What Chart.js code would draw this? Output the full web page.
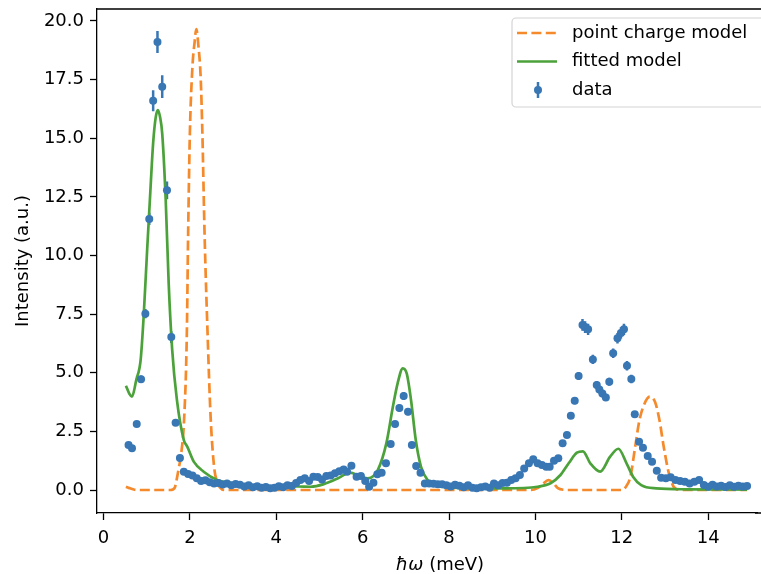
<!DOCTYPE html>
<html>
<head>
<meta charset="utf-8">
<script src="https://cdn.jsdelivr.net/npm/chart.js@4.4.1/dist/chart.umd.min.js"></script>
<style>
html, body { margin: 0; padding: 0; overflow: hidden; background: #fff; }
</style>
</head>
<body>
<canvas id="crys-graph" width="761" height="574"></canvas>
<script>
// measured spectrum
var dataX = [0.58,0.66,0.77,0.87,0.97,1.06,1.15,1.25,1.36,1.47,
  1.57,1.67,1.77,1.86,1.96,2.06,2.16,2.26,2.36,2.46,
  2.56,2.66,2.76,2.86,2.96,3.06,3.16,3.26,3.36,3.46,
  3.56,3.66,3.76,3.86,3.96,4.06,4.16,4.26,4.36,4.46,
  4.56,4.66,4.76,4.86,4.96,5.06,5.16,5.26,5.36,5.46,
  5.56,5.64,5.74,5.86,5.96,6.06,6.15,6.25,6.34,6.44,
  6.54,6.65,6.75,6.85,6.95,7.05,7.14,7.24,7.34,7.44,
  7.54,7.64,7.74,7.84,7.94,8.04,8.14,8.24,8.34,8.44,
  8.54,8.64,8.74,8.84,8.94,9.04,9.14,9.24,9.34,9.44,
  9.54,9.64,9.74,9.85,9.95,10.05,10.15,10.25,10.33,10.43,
  10.53,10.63,10.73,10.82,10.91,11.0,11.09,11.15,11.22,11.33,
  11.42,11.48,11.55,11.63,11.71,11.8,11.9,11.98,12.05,12.12,
  12.22,12.3,12.4,12.49,12.6,12.7,12.81,12.91,13.02,13.13,
  13.24,13.35,13.46,13.57,13.68,13.79,13.9,14.0,14.1,14.2,
  14.3,14.4,14.5,14.6,14.7,14.8,14.9];
var dataY = [1.92,1.78,2.81,4.72,7.52,11.56,16.6,19.1,17.2,12.78,
  6.52,2.87,1.36,0.78,0.68,0.62,0.5,0.38,0.42,0.33,
  0.28,0.3,0.24,0.28,0.2,0.26,0.22,0.15,0.2,0.12,
  0.16,0.1,0.13,0.07,0.1,0.16,0.12,0.2,0.17,0.3,
  0.43,0.5,0.38,0.57,0.55,0.45,0.6,0.62,0.72,0.8,
  0.88,0.78,1.04,0.57,0.6,0.38,0.14,0.31,0.67,0.74,
  1.14,1.96,2.81,3.5,4.01,3.34,1.92,1.02,0.74,0.28,
  0.28,0.27,0.25,0.25,0.2,0.15,0.22,0.18,0.12,0.2,
  0.1,0.08,0.12,0.15,0.1,0.28,0.2,0.3,0.31,0.43,
  0.5,0.64,0.92,1.14,1.31,1.14,1.07,0.99,0.99,1.25,
  1.35,1.99,2.35,3.17,3.81,4.86,7.04,6.95,6.85,5.57,
  4.48,4.29,4.12,3.95,4.62,5.83,6.47,6.7,6.85,5.3,
  4.73,3.23,2.06,1.8,1.45,1.2,0.82,0.52,0.5,0.54,
  0.43,0.38,0.35,0.28,0.35,0.43,0.21,0.14,0.22,0.15,
  0.18,0.13,0.2,0.14,0.18,0.15,0.17];
var dataErr = [0.1,0.1,0.12,0.16,0.2,0.26,0.45,0.47,0.48,0.38,
  0.25,0.14,0.1,0.07,0.07,0.06,0.06,0.05,0.05,0.05,
  0.05,0.05,0.05,0.05,0.05,0.05,0.05,0.05,0.05,0.05,
  0.05,0.05,0.05,0.05,0.05,0.05,0.05,0.05,0.05,0.05,
  0.06,0.06,0.06,0.06,0.06,0.06,0.06,0.06,0.06,0.06,
  0.07,0.07,0.08,0.06,0.06,0.05,0.05,0.05,0.06,0.07,
  0.08,0.1,0.13,0.15,0.17,0.15,0.1,0.08,0.07,0.05,
  0.05,0.05,0.05,0.05,0.05,0.05,0.05,0.05,0.05,0.05,
  0.05,0.05,0.05,0.05,0.05,0.05,0.05,0.05,0.05,0.05,
  0.06,0.06,0.07,0.08,0.08,0.08,0.08,0.07,0.07,0.08,
  0.09,0.1,0.11,0.13,0.15,0.17,0.25,0.25,0.24,0.2,
  0.17,0.16,0.16,0.15,0.17,0.2,0.22,0.24,0.24,0.2,
  0.18,0.14,0.1,0.1,0.09,0.08,0.07,0.06,0.06,0.06,
  0.05,0.05,0.05,0.05,0.05,0.05,0.05,0.05,0.05,0.05,
  0.05,0.05,0.05,0.05,0.05,0.05,0.05];

// fitted model
var fitX = [0.52,0.6,0.66,0.76,0.86,0.93,1.01,1.09,1.15,1.21,1.26,1.31,1.36,1.44,1.51,1.59,1.7,1.86,1.94,2.09,
  2.32,2.63,3.0,3.5,4.0,4.5,4.8,5.1,5.43,5.7,5.97,6.12,6.35,6.55,6.7,6.81,6.93,7.02,7.12,7.23,
  7.35,7.5,7.8,8.5,9.3,10.05,10.35,10.58,10.77,10.96,11.1,11.27,11.5,11.73,11.92,12.11,12.26,12.45,12.8,13.5,14.9];
var fitY = [4.45,4.1,3.98,4.7,5.54,7.4,10.2,12.9,14.8,15.9,16.2,15.9,15.2,12.4,8.8,6.0,3.84,2.13,1.85,1.21,
  0.78,0.43,0.28,0.18,0.15,0.15,0.14,0.25,0.5,0.74,0.57,0.5,0.85,2.0,3.55,4.55,5.19,4.97,3.84,2.13,
  1.0,0.43,0.14,0.08,0.07,0.14,0.29,0.64,1.14,1.59,1.65,1.14,0.78,1.42,1.76,1.14,0.57,0.21,0.07,0.03,0.02];

// point charge model
var pcX = [0.52,0.6,0.7,0.8,1.55,1.65,1.7,1.75,1.79,1.87,1.93,1.96,2.0,2.06,2.11,2.15,2.2,2.25,2.29,2.34,
  2.41,2.48,2.56,2.62,2.7,2.8,9.9,10.05,10.17,10.3,10.42,10.52,10.65,10.8,12.0,12.1,12.2,12.31,12.41,12.53,
  12.65,12.77,12.87,12.97,13.09,13.2,13.32,13.45,14.9];
var pcY = [0.14,0.08,0.02,0,0,0.1,0.5,1.0,1.42,3.13,6.68,10.95,15.2,18.05,19.1,19.65,18.9,17.6,15.2,10.95,
  6.68,3.13,1.0,0.4,0.1,0,0,0.08,0.25,0.42,0.28,0.08,0.01,0,0,0.15,0.57,1.85,2.99,3.7,
  3.98,3.75,3.0,1.85,0.71,0.14,0.01,0,0];

var xTicks = [0, 2, 4, 6, 8, 10, 12, 14];
var yTicks = [0, 2.5, 5, 7.5, 10, 12.5, 15, 17.5, 20];

var seriesNames = ['point charge model', 'fitted model', 'data'];
var blue = '#3876b4', orange = '#f58a2c', green = '#4ca23a';
var FONT = '"DejaVu Sans", sans-serif';

function pairs(xs, ys) {
	return xs.map(function(x, i) { return {x: x, y: ys[i]}; });
}

var errorBars = {
	id: 'errorBars',
	beforeDatasetDraw: function(chart, args) {
		if (args.index !== 2) return;
		var ctx = chart.ctx, sx = chart.scales.x, sy = chart.scales.y;
		ctx.save();
		ctx.strokeStyle = blue;
		ctx.lineWidth = 2.5;
		ctx.beginPath();
		for (var i = 0; i < dataX.length; i++) {
			var px = sx.getPixelForValue(dataX[i]);
			ctx.moveTo(px, sy.getPixelForValue(dataY[i] + dataErr[i]));
			ctx.lineTo(px, sy.getPixelForValue(dataY[i] - dataErr[i]));
		}
		ctx.stroke();
		ctx.restore();
	}
};

var frame = {
	id: 'frame',
	afterDraw: function(chart) {
		var ctx = chart.ctx, a = chart.chartArea;
		ctx.save();
		// top spine, and bottom spine run to the picture edge; right spine is cropped off
		ctx.strokeStyle = '#000';
		ctx.lineWidth = 1.3;
		ctx.beginPath();
		ctx.moveTo(a.left, a.top);
		ctx.lineTo(chart.width + 5, a.top);
		ctx.moveTo(a.right - 2, a.bottom);
		ctx.lineTo(chart.width + 5, a.bottom);
		ctx.stroke();

		// x axis title, hbar omega in italic
		var p1 = '\u0127\u03c9', p2 = ' (meV)';
		ctx.fillStyle = '#000';
		ctx.textBaseline = 'middle';
		ctx.textAlign = 'left';
		ctx.font = 'italic 18px ' + FONT;
		var w1 = ctx.measureText(p1).width;
		ctx.font = '18px ' + FONT;
		var w2 = ctx.measureText(p2).width;
		var cx = 440 - (w1 + w2) / 2;
		ctx.font = 'italic 18px ' + FONT;
		ctx.fillText(p1, cx, 565);
		ctx.font = '18px ' + FONT;
		ctx.fillText(p2, cx + w1, 565);

		// legend
		var lx = 512, ly = 18, lw = 262, lh = 89;
		ctx.beginPath();
		ctx.roundRect(lx, ly, lw, lh, 4);
		ctx.fillStyle = 'rgba(255,255,255,0.8)';
		ctx.fill();
		ctx.strokeStyle = '#d4d4d4';
		ctx.lineWidth = 1.2;
		ctx.stroke();

		var rows = [33, 61.5, 90];
		ctx.lineWidth = 2.7;
		ctx.strokeStyle = orange;
		ctx.setLineDash([10, 4.4]);
		ctx.beginPath(); ctx.moveTo(517, rows[0]); ctx.lineTo(557, rows[0]); ctx.stroke();
		ctx.setLineDash([]);
		ctx.strokeStyle = green;
		ctx.beginPath(); ctx.moveTo(517, rows[1]); ctx.lineTo(557, rows[1]); ctx.stroke();
		ctx.strokeStyle = blue;
		ctx.lineWidth = 2.5;
		ctx.beginPath(); ctx.moveTo(538, rows[2] - 8); ctx.lineTo(538, rows[2] + 8); ctx.stroke();
		ctx.fillStyle = blue;
		ctx.beginPath(); ctx.arc(538, rows[2], 4, 0, Math.PI * 2); ctx.fill();

		ctx.fillStyle = '#000';
		ctx.font = '18px ' + FONT;
		for (var i = 0; i < seriesNames.length; i++) {
			ctx.fillText(seriesNames[i], 572, rows[i]);
		}
		ctx.restore();
	}
};

var ctx = document.getElementById('crys-graph');
var crysChart = new Chart(ctx, {
	type: 'scatter',
	data: {
		datasets: [{
			label: seriesNames[2],
			data: pairs(dataX, dataY),
			backgroundColor: blue,
			borderColor: blue,
			pointRadius: 4,
			pointBorderWidth: 0,
			showLine: false,
			order: 0
		}, {
			label: seriesNames[1],
			data: pairs(fitX, fitY),
			borderColor: green,
			borderWidth: 2.7,
			pointRadius: 0,
			showLine: true,
			cubicInterpolationMode: 'monotone',
			order: 1
		}, {
			label: seriesNames[0],
			data: pairs(pcX, pcY),
			borderColor: orange,
			borderWidth: 2.7,
			borderDash: [10, 4.4],
			pointRadius: 0,
			showLine: true,
			cubicInterpolationMode: 'monotone',
			order: 2
		}]
	},
	options: {
		responsive: false,
		animation: false,
		layout: { padding: { top: 9, right: 0, left: 0, bottom: 0 } },
		plugins: {
			legend: { display: false },
			tooltip: { enabled: false }
		},
		scales: {
			x: {
				type: 'linear',
				min: -0.15,
				max: 15.13,
				afterFit: function(scale) {
					scale.height = 61;
					scale.paddingLeft = 0;
					scale.paddingRight = 0;
				},
				afterBuildTicks: function(scale) {
					scale.ticks = xTicks.map(function(v) { return {value: v}; });
				},
				grid: { drawOnChartArea: false, drawTicks: true, tickLength: 7, tickWidth: 1.3, color: '#000' },
				border: { display: true, color: '#000', width: 1.3 },
				ticks: {
					autoSkip: false, maxRotation: 0, padding: 8, color: '#000',
					font: { family: FONT, size: 18 },
					callback: function(v) { return String(v); }
				}
			},
			y: {
				type: 'linear',
				min: -0.98,
				max: 20.51,
				afterFit: function(scale) {
					scale.width = 97;
					scale.paddingTop = 0;
					scale.paddingBottom = 0;
				},
				afterBuildTicks: function(scale) {
					scale.ticks = yTicks.map(function(v) { return {value: v}; });
				},
				grid: { drawOnChartArea: false, drawTicks: true, tickLength: 7, tickWidth: 1.3, color: '#000' },
				border: { display: true, color: '#000', width: 1.3 },
				title: {
					display: true, text: 'Intensity (a.u.)', color: '#000',
					font: { family: FONT, size: 18 },
					padding: { top: 13, bottom: 0 }
				},
				ticks: {
					autoSkip: false, padding: 6, color: '#000',
					font: { family: FONT, size: 18 },
					callback: function(v) { return v.toFixed(1); }
				}
			}
		}
	},
	plugins: [errorBars, frame]
});
</script>
</body>
</html>
